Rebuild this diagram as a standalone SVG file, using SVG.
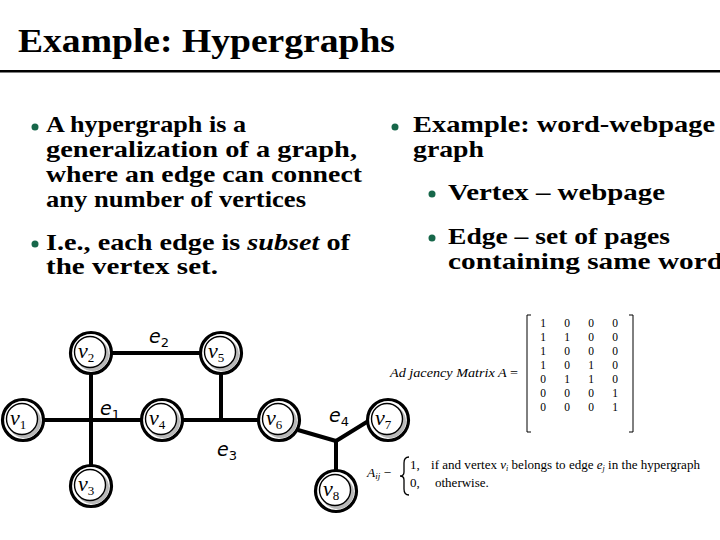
<svg xmlns="http://www.w3.org/2000/svg" width="720" height="540" viewBox="0 0 720 540">
<style>
.title{font-family:"Liberation Serif",serif;font-weight:bold;font-size:34px;fill:#000}
.body{font-family:"Liberation Serif",serif;font-weight:bold;font-size:23px;fill:#000}
.bul{fill:#17674a}
.edge{stroke:#000;stroke-width:4;fill:none;stroke-linecap:butt}
.ring{fill:#fff;stroke:#000;stroke-width:3.2}
.shadow{fill:#b8b8b8}
.inner{fill:#fff;stroke:#000;stroke-width:1.4}
.nl{font-family:"Liberation Serif",serif;font-style:italic;font-size:22px;fill:#000}
.sub{font-size:13px;font-style:normal}
.el{font-family:"DejaVu Sans","Liberation Sans",sans-serif;font-style:italic;font-size:19px;fill:#000}
.m{font-family:"Liberation Serif",serif;font-size:13px;fill:#000}
.md{font-family:"Liberation Serif",serif;font-size:11.5px;fill:#000}
.mi{font-family:"Liberation Serif",serif;font-style:italic;font-size:13.5px;fill:#000}
</style>
<defs>
<g id="node">
<circle class="ring" r="20.5"/>
<circle class="shadow" cx="1.5" cy="1.5" r="16.5"/>
<circle class="inner" cx="-1" cy="-1" r="15.5"/>
</g>
</defs>
<rect width="720" height="540" fill="#fff"/>
<g id="header">
<text class="title" x="18" y="52" textLength="377" lengthAdjust="spacingAndGlyphs">Example: Hypergraphs</text>
<rect x="0" y="70" width="720" height="2.5" fill="#000"/>
</g>
<g id="left-text">
<circle class="bul" cx="35" cy="127" r="3.5"/>
<text class="body" x="46" y="132" textLength="200" lengthAdjust="spacingAndGlyphs">A hypergraph is a</text>
<text class="body" x="46" y="157" textLength="311" lengthAdjust="spacingAndGlyphs">generalization of a graph,</text>
<text class="body" x="46" y="182" textLength="316" lengthAdjust="spacingAndGlyphs">where an edge can connect</text>
<text class="body" x="46" y="207" textLength="260" lengthAdjust="spacingAndGlyphs">any number of vertices</text>
<circle class="bul" cx="35" cy="244" r="3.5"/>
<text class="body" x="46" y="250" textLength="304" lengthAdjust="spacingAndGlyphs">I.e., each edge is <tspan font-style="italic">subset</tspan> of</text>
<text class="body" x="46" y="274" textLength="172" lengthAdjust="spacingAndGlyphs">the vertex set.</text>
</g>
<g id="right-text">
<circle class="bul" cx="395" cy="127" r="3.5"/>
<text class="body" x="413" y="132" textLength="302" lengthAdjust="spacingAndGlyphs">Example: word-webpage</text>
<text class="body" x="413" y="157" textLength="71" lengthAdjust="spacingAndGlyphs">graph</text>
<circle class="bul" cx="432" cy="194" r="3.5"/>
<text class="body" x="448" y="200" textLength="217" lengthAdjust="spacingAndGlyphs">Vertex – webpage</text>
<circle class="bul" cx="432" cy="238" r="3.5"/>
<text class="body" x="448" y="244" textLength="222" lengthAdjust="spacingAndGlyphs">Edge – set of pages</text>
<text class="body" x="448" y="269" textLength="275" lengthAdjust="spacingAndGlyphs">containing same word</text>
</g>
<g id="connectors">
<line class="edge" x1="111" y1="353" x2="202" y2="353"/>
<line class="edge" x1="91" y1="372" x2="91" y2="466"/>
<line class="edge" x1="43" y1="420" x2="143" y2="420"/>
<line class="edge" x1="182" y1="420" x2="260" y2="420"/>
<line class="edge" x1="221" y1="372" x2="221" y2="420"/>
<polyline class="edge" points="298,430 336,441 370,420"/>
<line class="edge" x1="336" y1="441" x2="336" y2="470"/>
</g>
<g id="edge-labels">
<text class="el" x="149" y="343">e<tspan class="sub" font-style="normal" dy="4">2</tspan></text>
<text class="el" x="100" y="415">e<tspan class="sub" font-style="normal" dy="4">1</tspan></text>
<text class="el" x="217" y="456">e<tspan class="sub" font-style="normal" dy="4">3</tspan></text>
<text class="el" x="329" y="422">e<tspan class="sub" font-style="normal" dy="4">4</tspan></text>
</g>
<g id="v1"><use href="#node" x="23" y="420"/><text class="nl" x="10" y="425">v<tspan class="sub" dy="4">1</tspan></text></g>
<g id="v2"><use href="#node" x="91" y="353"/><text class="nl" x="78" y="358">v<tspan class="sub" dy="4">2</tspan></text></g>
<g id="v3"><use href="#node" x="91" y="486"/><text class="nl" x="78" y="491">v<tspan class="sub" dy="4">3</tspan></text></g>
<g id="v4"><use href="#node" x="162" y="420"/><text class="nl" x="149" y="425">v<tspan class="sub" dy="4">4</tspan></text></g>
<g id="v5"><use href="#node" x="221" y="353"/><text class="nl" x="208" y="358">v<tspan class="sub" dy="4">5</tspan></text></g>
<g id="v6"><use href="#node" x="279" y="420"/><text class="nl" x="266" y="425">v<tspan class="sub" dy="4">6</tspan></text></g>
<g id="v7"><use href="#node" x="388" y="420"/><text class="nl" x="375" y="425">v<tspan class="sub" dy="4">7</tspan></text></g>
<g id="v8"><use href="#node" x="336" y="491"/><text class="nl" x="323" y="496">v<tspan class="sub" dy="4">8</tspan></text></g>
<g id="matrix">
<text class="mi" x="390" y="377" textLength="128" lengthAdjust="spacingAndGlyphs">Ad jacency Matrix A <tspan font-style="normal">=</tspan></text>
<path d="M531,315 H527 V432 H531 M629,315 H633 V432 H629" fill="none" stroke="#000" stroke-width="1"/>
<g class="md" text-anchor="middle">
<text x="543" y="327">1</text><text x="567" y="327">0</text><text x="591" y="327">0</text><text x="615" y="327">0</text>
<text x="543" y="341">1</text><text x="567" y="341">1</text><text x="591" y="341">0</text><text x="615" y="341">0</text>
<text x="543" y="355">1</text><text x="567" y="355">0</text><text x="591" y="355">0</text><text x="615" y="355">0</text>
<text x="543" y="369">1</text><text x="567" y="369">0</text><text x="591" y="369">1</text><text x="615" y="369">0</text>
<text x="543" y="383">0</text><text x="567" y="383">1</text><text x="591" y="383">1</text><text x="615" y="383">0</text>
<text x="543" y="397">0</text><text x="567" y="397">0</text><text x="591" y="397">0</text><text x="615" y="397">1</text>
<text x="543" y="411">0</text><text x="567" y="411">0</text><text x="591" y="411">0</text><text x="615" y="411">1</text>
</g>
</g>
<g id="formula">
<text class="mi" x="367" y="477">A<tspan font-size="9" dy="2">ij</tspan><tspan font-style="normal" dy="-2"> −</tspan></text>
<path d="M409,457 Q404,457 404,463 V472 Q404,476 400,476 Q404,476 404,480 V489 Q404,495 409,495" fill="none" stroke="#000" stroke-width="1.3"/>
<text class="m" x="410" y="469">1,</text>
<text class="m" x="410" y="487">0,</text>
<text class="m" x="431" y="469" textLength="269" lengthAdjust="spacingAndGlyphs">if  and vertex <tspan font-style="italic">v<tspan font-size="8" dy="2">i</tspan></tspan><tspan dy="-2"> belongs to edge </tspan><tspan font-style="italic">e<tspan font-size="8" dy="2">j</tspan></tspan><tspan dy="-2"> in the hypergraph</tspan></text>
<text class="m" x="435" y="487">otherwise.</text>
</g>
</svg>
